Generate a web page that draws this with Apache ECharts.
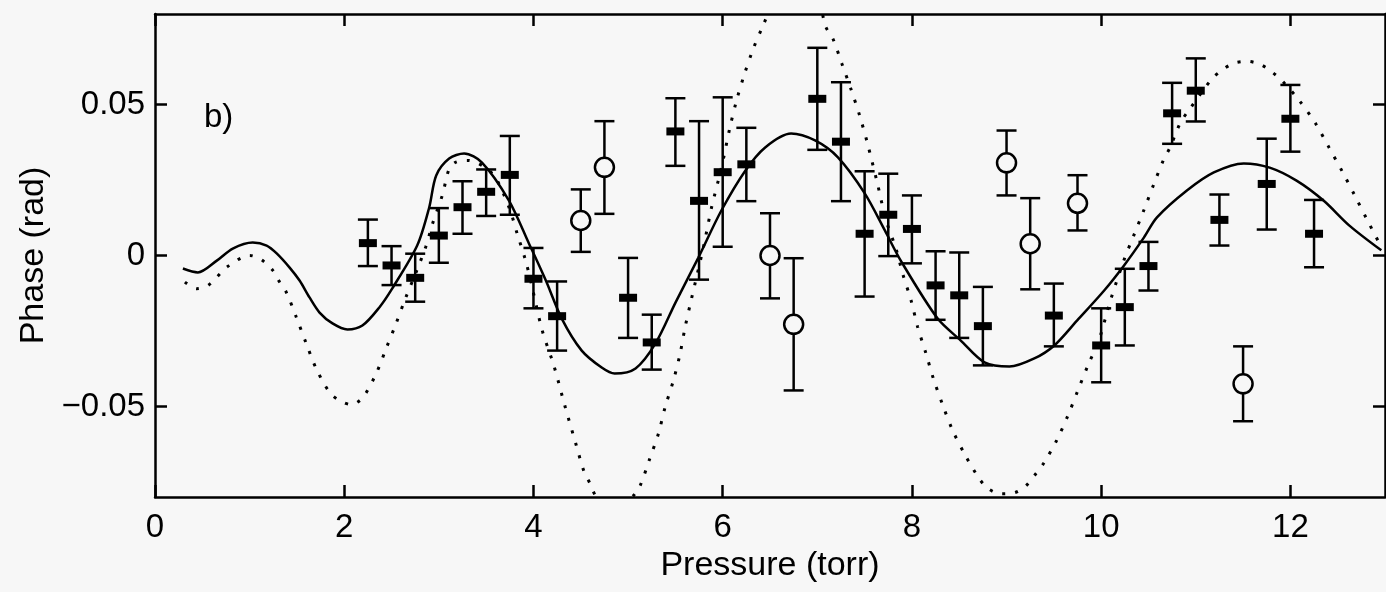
<!DOCTYPE html>
<html>
<head>
<meta charset="utf-8">
<script src="https://cdn.jsdelivr.net/npm/echarts@6/dist/echarts.min.js"></script>
<style>
html,body{margin:0;padding:0;background:#f7f7f7;}
#chart{width:1386px;height:592px;}
</style>
</head>
<body>
<div id="chart"></div>
<script>
// ---- data ----
const xTickValues = [0, 2, 4, 6, 8, 10, 12];
const yTickValues = [-0.05, 0, 0.05];
const panelLabel = 'b)';
const xName = 'Pressure (torr)';
const yName = 'Phase (rad)';

// filled-dash measurements: [pressure, phase, upper, lower]
const filledX = [2.25,2.5,2.75,3.0,3.25,3.5,3.75,4.0,4.25,5.0,5.25,5.5,5.75,6.0,6.25,7.0,7.25,7.5,7.75,8.0,8.25,8.5,8.75,9.5,10.0,10.25,10.5,10.75,11.0,11.25,11.75,12.0,12.25];
const filledY = [0.0041,-0.0033,-0.0074,0.0066,0.0160,0.0211,0.0267,-0.0077,-0.0201,-0.0140,-0.0288,0.0411,0.0181,0.0276,0.0302,0.0519,0.0377,0.0072,0.0135,0.0088,-0.0099,-0.0132,-0.0234,-0.0199,-0.0298,-0.0171,-0.0035,0.0471,0.0546,0.0118,0.0237,0.0453,0.0072];
const filledHi = [0.0119,0.0031,0.0006,0.0157,0.0246,0.0285,0.0396,0.0025,-0.0086,-0.0008,-0.0196,0.0521,0.0445,0.0524,0.0423,0.0688,0.0574,0.0279,0.0271,0.0199,0.0014,0.0010,-0.0104,-0.0093,-0.0175,-0.0044,0.0045,0.0572,0.0653,0.0202,0.0387,0.0565,0.0184];
const filledLo = [-0.0035,-0.0098,-0.0153,-0.0024,0.0072,0.0131,0.0135,-0.0175,-0.0315,-0.0273,-0.0378,0.0297,-0.0080,0.0029,0.0180,0.0350,0.0180,-0.0136,-0.0002,-0.0026,-0.0213,-0.0273,-0.0364,-0.0301,-0.0420,-0.0298,-0.0116,0.0370,0.0444,0.0033,0.0086,0.0344,-0.0039];

// open-circle measurements
const openX = [4.5,4.75,6.5,6.75,9.0,9.25,9.75,11.5];
const openY = [0.0116,0.0292,0.0000,-0.0228,0.0307,0.0039,0.0173,-0.0425];
const openHi = [0.0219,0.0445,0.0140,-0.0009,0.0414,0.0190,0.0266,-0.0301];
const openLo = [0.0012,0.0138,-0.0142,-0.0447,0.0199,-0.0112,0.0083,-0.0549];

// solid model curve
const solidX = [0.295,0.453,0.653,0.822,1.033,1.180,1.286,1.423,1.528,1.633,1.739,1.876,2.034,2.192,2.371,2.508,2.771,2.898,2.972,3.109,3.267,3.456,3.741,3.952,4.131,4.299,4.510,4.721,4.858,5.079,5.290,5.501,5.743,5.986,6.239,6.449,6.723,6.976,7.218,7.503,7.714,7.882,8.272,8.514,8.767,9.031,9.294,9.505,9.747,10.032,10.242,10.453,10.590,10.906,11.191,11.507,11.781,12.065,12.350,12.624,12.961];
const solidY = [-0.0043,-0.0056,-0.0017,0.0023,0.0043,0.0033,0.0007,-0.0040,-0.0083,-0.0139,-0.0189,-0.0225,-0.0245,-0.0232,-0.0172,-0.0109,0.0033,0.0159,0.0265,0.0321,0.0338,0.0308,0.0182,0.0040,-0.0083,-0.0209,-0.0315,-0.0371,-0.0391,-0.0374,-0.0291,-0.0156,-0.0007,0.0149,0.0281,0.0358,0.0404,0.0381,0.0325,0.0205,0.0083,-0.0017,-0.0209,-0.0281,-0.0354,-0.0368,-0.0341,-0.0298,-0.0215,-0.0116,-0.0033,0.0060,0.0126,0.0215,0.0275,0.0305,0.0291,0.0248,0.0182,0.0099,0.0017];

// dotted model curve
const dottedX = [0.316,0.439,0.562,0.77,1.001,1.124,1.247,1.317,1.388,1.493,1.599,1.704,1.844,1.949,2.073,2.195,2.336,2.442,2.547,2.652,2.764,2.863,2.933,3.038,3.109,3.179,3.301,3.565,3.741,3.828,3.917,3.986,4.092,4.215,4.331,4.450,4.534,4.602,4.654,4.75,4.85,4.95,5.058,5.128,5.227,5.321,5.392,5.479,5.550,5.603,5.666,5.796,5.883,5.988,6.077,6.146,6.228,6.322,6.431,6.55,6.68,6.8,6.92,7.0,7.089,7.165,7.260,7.358,7.447,7.527,7.632,7.727,7.832,7.903,7.991,8.061,8.148,8.227,8.324,8.430,8.559,8.711,8.809,8.939,9.080,9.202,9.297,9.389,9.529,9.649,9.754,9.863,9.976,10.098,10.239,10.344,10.450,10.555,10.661,10.730,10.836,10.924,11.170,11.286,11.404,11.549,11.689,11.809,11.918,12.100,12.265,12.406,12.547,12.680,12.810,12.943];
const dottedY = [-0.0088,-0.0110,-0.0099,-0.0036,0.0000,-0.0014,-0.0050,-0.0088,-0.0122,-0.0204,-0.0292,-0.0375,-0.0453,-0.0480,-0.0494,-0.0471,-0.0392,-0.0309,-0.0226,-0.0138,-0.0052,0.0030,0.0105,0.0201,0.0287,0.0309,0.0315,0.0271,0.0160,0.0072,-0.0017,-0.0105,-0.0248,-0.0364,-0.0497,-0.0626,-0.0715,-0.0758,-0.0795,-0.0830,-0.0840,-0.0830,-0.0795,-0.0762,-0.0675,-0.0590,-0.0502,-0.0414,-0.0325,-0.0237,-0.0149,0.0027,0.0160,0.0292,0.0425,0.0513,0.0599,0.0684,0.0765,0.0850,0.0900,0.0915,0.0900,0.0870,0.0758,0.0718,0.0635,0.0549,0.0464,0.0375,0.0243,0.0116,0.0022,-0.0061,-0.0149,-0.0237,-0.0324,-0.0408,-0.0494,-0.0579,-0.0659,-0.0739,-0.0773,-0.0789,-0.0786,-0.0764,-0.0728,-0.0690,-0.0613,-0.0530,-0.0447,-0.0362,-0.0281,-0.0149,-0.0017,0.0066,0.0149,0.0235,0.0318,0.0359,0.0439,0.0480,0.0585,0.0616,0.0637,0.0643,0.0632,0.0607,0.0577,0.0511,0.0438,0.0359,0.0279,0.0199,0.0119,0.0039];

// ---- build chart ----
const BG = '#f7f7f7';
const FONT = '"Liberation Sans", Arial, Helvetica, sans-serif';

function zip4(a, b, c, d) { return a.map((v, i) => [v, b[i], c[i], d[i]]); }
function zip2(a, b) { return a.map((v, i) => [v, b[i]]); }

function makeRender(kind) {
  return function (params, api) {
    const x = api.value(0), y = api.value(1), hi = api.value(2), lo = api.value(3);
    const pt = api.coord([x, hi]);
    const pb = api.coord([x, lo]);
    const pc = api.coord([x, y]);
    const cap = 10;
    const st = { stroke: '#000', lineWidth: 2.5 };
    const children = [
      { type: 'line', shape: { x1: pc[0], y1: pt[1], x2: pc[0], y2: pb[1] }, style: st },
      { type: 'line', shape: { x1: pc[0] - cap, y1: pt[1], x2: pc[0] + cap, y2: pt[1] }, style: st },
      { type: 'line', shape: { x1: pc[0] - cap, y1: pb[1], x2: pc[0] + cap, y2: pb[1] }, style: st }
    ];
    if (kind === 'filled') {
      children.push({ type: 'rect', shape: { x: pc[0] - 9, y: pc[1] - 4, width: 18, height: 8 }, style: { fill: '#000' } });
    } else {
      children.push({ type: 'circle', shape: { cx: pc[0], cy: pc[1], r: 9.5 }, style: { fill: BG, stroke: '#000', lineWidth: 2.5 } });
    }
    return { type: 'group', children: children };
  };
}

const axisCommon = {
  axisLine: { show: true, onZero: false, lineStyle: { color: '#000', width: 2.5 } },
  splitLine: { show: false },
  axisTick: { show: true, inside: true, length: 12, lineStyle: { color: '#000', width: 2.5 } }
};

const chart = echarts.init(document.getElementById('chart'), null, { renderer: 'canvas' });
chart.setOption({
  backgroundColor: BG,
  animation: false,
  title: {
    text: panelLabel, left: 199, top: 96,
    textStyle: { fontFamily: FONT, fontSize: 33, fontWeight: 'normal', color: '#000' }
  },
  grid: { left: 155, right: 1, top: 14, bottom: 95 },
  xAxis: [
    Object.assign({}, axisCommon, {
      type: 'value', min: 0, max: 13, position: 'bottom',
      axisTick: Object.assign({}, axisCommon.axisTick, { customValues: xTickValues }),
      axisLabel: { customValues: xTickValues, margin: 14, color: '#000', fontFamily: FONT, fontSize: 33 },
      name: xName, nameLocation: 'middle', nameGap: 50,
      nameTextStyle: { color: '#000', fontFamily: FONT, fontSize: 34 }
    }),
    Object.assign({}, axisCommon, {
      type: 'value', min: 0, max: 13, position: 'top',
      axisTick: Object.assign({}, axisCommon.axisTick, { customValues: xTickValues }),
      axisLabel: { show: false }
    })
  ],
  yAxis: [
    Object.assign({}, axisCommon, {
      type: 'value', min: -0.08, max: 0.08, position: 'left',
      axisTick: Object.assign({}, axisCommon.axisTick, { customValues: yTickValues }),
      axisLabel: {
        customValues: yTickValues, margin: 10, color: '#000', fontFamily: FONT, fontSize: 33,
        formatter: function (v) {
          if (Math.abs(v) < 1e-9) return '0';
          return (v < 0 ? '\u2212' : '') + Math.abs(v).toFixed(2);
        }
      },
      name: yName, nameLocation: 'middle', nameGap: 100,
      nameTextStyle: { color: '#000', fontFamily: FONT, fontSize: 34 }
    }),
    Object.assign({}, axisCommon, {
      type: 'value', min: -0.08, max: 0.08, position: 'right',
      axisTick: Object.assign({}, axisCommon.axisTick, { customValues: yTickValues }),
      axisLabel: { show: false }
    })
  ],
  series: [
    {
      type: 'line', name: 'model (dotted)', data: zip2(dottedX, dottedY),
      xAxisIndex: 0, yAxisIndex: 0, symbol: 'none', smooth: 0.3, clip: true,
      lineStyle: { color: '#000', width: 3, type: [3, 10] }
    },
    {
      type: 'line', name: 'model (solid)', data: zip2(solidX, solidY),
      xAxisIndex: 0, yAxisIndex: 0, symbol: 'none', smooth: 0.3, clip: true,
      lineStyle: { color: '#000', width: 2.5 }
    },
    {
      type: 'custom', name: 'filled', data: zip4(filledX, filledY, filledHi, filledLo),
      xAxisIndex: 0, yAxisIndex: 0, renderItem: makeRender('filled'),
      encode: { x: 0, y: [1, 2, 3] }
    },
    {
      type: 'custom', name: 'open', data: zip4(openX, openY, openHi, openLo),
      xAxisIndex: 0, yAxisIndex: 0, renderItem: makeRender('open'),
      encode: { x: 0, y: [1, 2, 3] }
    }
  ]
});
</script>
</body>
</html>
